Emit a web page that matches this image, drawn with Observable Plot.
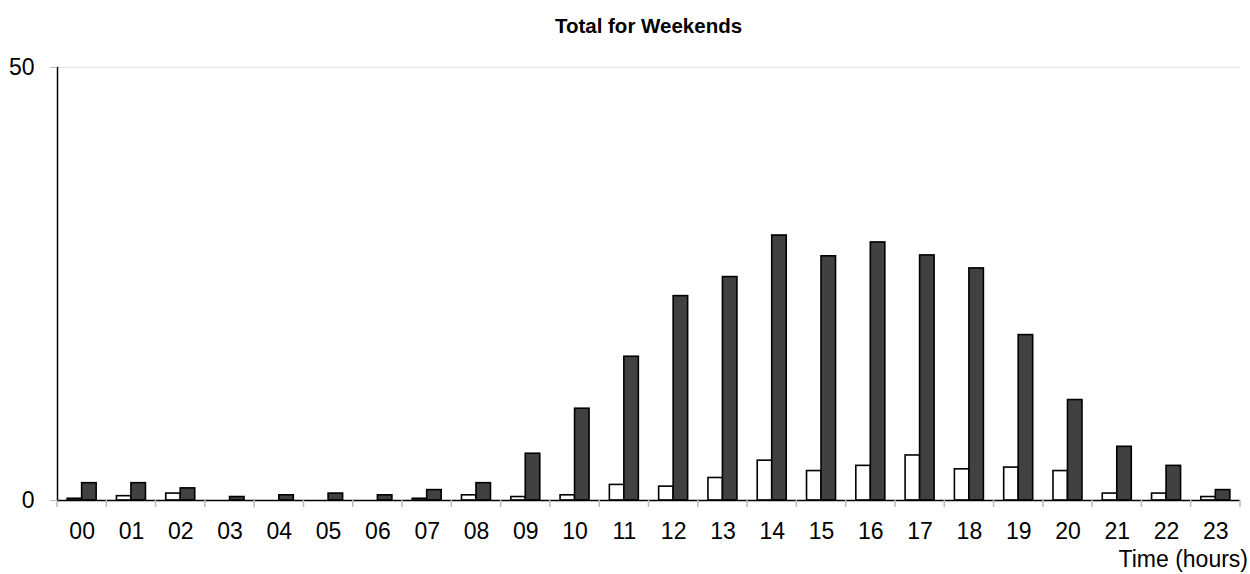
<!DOCTYPE html>
<html>
<head>
<meta charset="utf-8">
<script src="https://cdn.jsdelivr.net/npm/d3@7"></script>
<script src="https://cdn.jsdelivr.net/npm/@observablehq/plot@0.6"></script>
<style>
  body { margin: 0; background: #fff; }
</style>
</head>
<body>
<div id="chart"></div>
<script>
// ---- data ----
const hours = ["00","01","02","03","04","05","06","07","08","09","10","11","12","13","14","15","16","17","18","19","20","21","22","23"];
const seriesWhite = [0.2, 0.5, 0.8, 0, 0, 0, 0, 0.2, 0.6, 0.4, 0.6, 1.8, 1.6, 2.6, 4.6, 3.4, 4.0, 5.2, 3.6, 3.8, 3.4, 0.8, 0.8, 0.4];
const seriesDark  = [2.0, 2.0, 1.4, 0.4, 0.6, 0.8, 0.6, 1.2, 2.0, 5.4, 10.6, 16.6, 23.6, 25.8, 30.6, 28.2, 29.8, 28.3, 26.8, 19.1, 11.6, 6.2, 4.0, 1.2];
const seriesNames = ["White", "Dark"];
const yTicks = [0, 50];
const titleText = "Total for Weekends";
const xLabelText = "Time (hours)";

const rows = hours.flatMap((h, i) => [
  {hour: h, series: seriesNames[0], value: seriesWhite[i]},
  {hour: h, series: seriesNames[1], value: seriesDark[i]}
]).filter(d => d.value > 0);

const FONT = "'Liberation Sans', Arial, Helvetica, sans-serif";

const plot = Plot.plot({
  width: 1250,
  height: 574,
  marginTop: 67,
  marginBottom: 74,
  marginLeft: 57,
  marginRight: 10,
  style: {fontFamily: FONT, background: "white", color: "black"},
  fx: {domain: hours, padding: 0, round: false, axis: null, label: null},
  x: {domain: seriesNames, paddingInner: 0, paddingOuter: 0.7, round: false, axis: null, label: null},
  y: {domain: [0, 50], axis: null, label: null},
  color: {domain: seriesNames, range: ["white", "#414141"]},
  marks: [
    Plot.ruleY([50], {stroke: "#e2e2e2", strokeWidth: 1}),
    Plot.barY(rows, {fx: "hour", x: "series", y: "value", fill: "series", stroke: "black", strokeWidth: 1.6}),
    Plot.ruleY([0], {stroke: "black", strokeWidth: 1.5}),
    Plot.frame({anchor: "left", facetAnchor: "left", stroke: "black", strokeWidth: 1.5}),
    Plot.axisY({ticks: yTicks, tickSize: 7, tickPadding: 16, stroke: "#bbbbbb", fill: "black", fontSize: 23, label: null, tickFormat: d => String(d)}),
    Plot.axisFx({anchor: "bottom", tickSize: 0, tickPadding: 22, fontSize: 23, fill: "black", label: null})
  ]
});

document.getElementById("chart").appendChild(plot);

// decorations using the library's scales
const fx = plot.scale("fx");
const y = plot.scale("y");
const y0 = y.apply(0);
const svg = d3.select(plot);
const bounds = hours.map(h => fx.apply(h)).concat([fx.apply(hours[hours.length - 1]) + fx.bandwidth]);
svg.append("g").selectAll("line").data(bounds).join("line")
  .attr("x1", d => d).attr("x2", d => d)
  .attr("y1", y0).attr("y2", y0 + 7)
  .attr("stroke", "#bbbbbb").attr("stroke-width", 1.5);

const cx = (fx.range[0] + fx.range[1]) / 2;
svg.append("text")
  .attr("x", cx).attr("y", 33)
  .attr("text-anchor", "middle")
  .attr("font-family", FONT).attr("font-weight", "bold").attr("font-size", 20.5)
  .attr("fill", "black")
  .text(titleText);

svg.append("text")
  .attr("x", 1248).attr("y", 567)
  .attr("text-anchor", "end")
  .attr("font-family", FONT).attr("font-size", 23)
  .attr("fill", "black")
  .text(xLabelText);
</script>
</body>
</html>
